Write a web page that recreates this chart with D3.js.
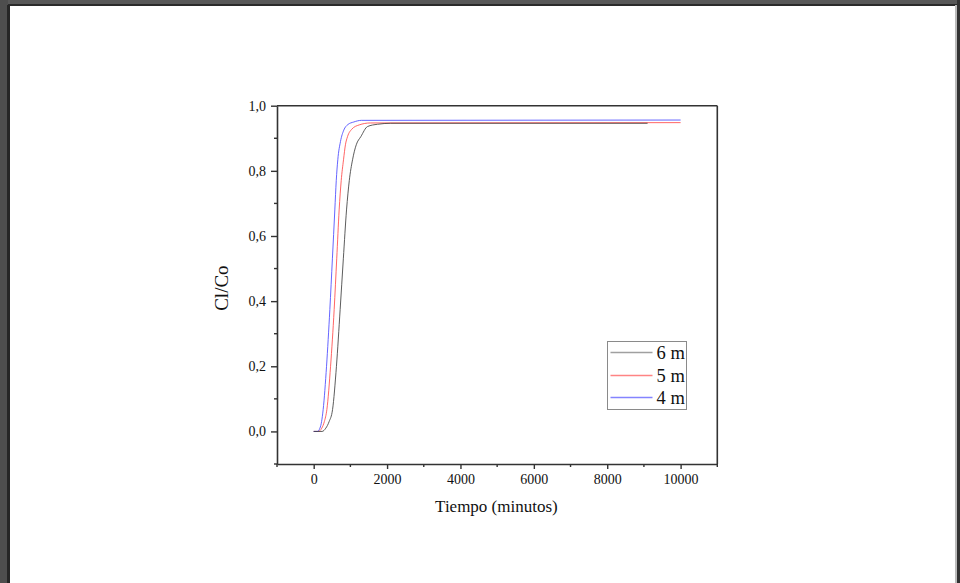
<!DOCTYPE html>
<html>
<head>
<meta charset="utf-8">
<script src="https://cdn.jsdelivr.net/npm/d3@7"></script>
<style>
  body { margin: 0; background: #fff; }
  svg { display: block; }
  text { font-family: "Liberation Serif", "Times New Roman", serif; fill: #111; }
</style>
</head>
<body>
<div id="chart-area"></div>
<script>
// series (time in minutes, Cl/Co)
let seriesNames = ["6 m", "5 m", "4 m"];
let seriesColors = ["#404040", "#ff4a4a", "#4a4aff"];
let legendColors = ["#a0a0a0", "#ff8484", "#8484ff"];

let time6 = [0, 230, 330, 420, 514, 620, 721, 808, 895, 970, 1059, 1160, 1285, 1467, 1740, 2100, 9100];
let conc6 = [0, 0, 0.01, 0.03, 0.067, 0.2, 0.374, 0.53, 0.68, 0.77, 0.834, 0.88, 0.905, 0.936, 0.943, 0.946, 0.946];

let time5 = [0, 130, 220, 290, 359, 460, 558, 628, 694, 750, 813, 865, 922, 1040, 1240, 1540, 10000];
let conc5 = [0, 0, 0.01, 0.03, 0.067, 0.2, 0.374, 0.53, 0.68, 0.77, 0.834, 0.88, 0.905, 0.928, 0.941, 0.947, 0.948];

let time4 = [0, 100, 170, 215, 258, 350, 440, 510, 576, 615, 657, 730, 820, 930, 1093, 1300, 10000];
let conc4 = [0, 0, 0.01, 0.03, 0.067, 0.2, 0.374, 0.53, 0.68, 0.77, 0.834, 0.89, 0.925, 0.942, 0.95, 0.955, 0.956];

let xTicks = [0, 2000, 4000, 6000, 8000, 10000];
let xMinor = [-1000, 1000, 3000, 5000, 7000, 9000, 11000];
let yTicks = [0, 0.2, 0.4, 0.6, 0.8, 1.0];
let yMinor = [-0.1, 0.1, 0.3, 0.5, 0.7, 0.9];

let margin = {left: 277, top: 105.7, right: 960 - 717.3, bottom: 583 - 464};
let width = 960 - margin.left - margin.right;
let height = 583 - margin.top - margin.bottom;

var svg = d3.select('#chart-area')
    .append('svg')
    .attr('width', 960)
    .attr('height', 583);

// page frame
svg.append('rect').attr('x', 0).attr('y', 0).attr('width', 960).attr('height', 5).attr('fill', '#585858');
svg.append('rect').attr('x', 0).attr('y', 4).attr('width', 960).attr('height', 2).attr('fill', '#2a2a2a');
svg.append('rect').attr('x', 0).attr('y', 0).attr('width', 8).attr('height', 583).attr('fill', '#4e4e4e');
svg.append('rect').attr('x', 7).attr('y', 5).attr('width', 3).attr('height', 578).attr('fill', '#262626');
svg.append('rect').attr('x', 955).attr('y', 5).attr('width', 2).attr('height', 578).attr('fill', '#bbbbbb');
svg.append('rect').attr('x', 957).attr('y', 0).attr('width', 3).attr('height', 583).attr('fill', '#333');

var g = svg.append('g')
    .attr('transform', 'translate(' + margin.left + ', ' + margin.top + ')');

var x = d3.scaleLinear().domain([-1000, 11000]).range([0, width]);
var y = d3.scaleLinear().domain([-0.1, 1.0]).range([height, 0]);

// curves
var data = [
    {name: seriesNames[0], t: time6, v: conc6},
    {name: seriesNames[1], t: time5, v: conc5},
    {name: seriesNames[2], t: time4, v: conc4}
];

var line = d3.line()
    .x(function(d){ return x(d[0]); })
    .y(function(d){ return y(d[1]); })
    .curve(d3.curveMonotoneX);

// draw red, blue, then black on top
[1, 2, 0].forEach(function(i) {
    var d = data[i];
    g.append('path')
        .datum(d.t.map(function(t, k){ return [t, d.v[k]]; }))
        .attr('fill', 'none')
        .attr('stroke', seriesColors[i])
        .attr('stroke-width', 1)
        .attr('stroke-opacity', 0.85)
        .attr('d', line);
});

// frame top/right
g.append('line').attr('x1', 0).attr('x2', width).attr('y1', 0).attr('y2', 0)
    .attr('stroke', '#333').attr('stroke-width', 1.6);
g.append('line').attr('x1', width).attr('x2', width).attr('y1', 0).attr('y2', height)
    .attr('stroke', '#333').attr('stroke-width', 1.6);

// x axis
var xAxis = g.append('g')
    .attr('class', 'x axis')
    .attr('transform', 'translate(0, ' + height + ')')
    .call(d3.axisBottom(x).tickValues(xTicks).tickSize(5).tickSizeOuter(0).tickFormat(d3.format('d')));
xAxis.attr('font-size', null).attr('font-family', null);
xAxis.selectAll('.tick line').attr('stroke', '#333').attr('stroke-width', 1.4);
xAxis.select('.domain').attr('stroke', '#333').attr('stroke-width', 1.6);
xAxis.selectAll('text')
    .style('font-size', '14px')
    .style('fill', '#111')
    .attr('y', 10);
xAxis.selectAll('.minor').data(xMinor).enter()
    .append('line')
    .attr('class', 'minor')
    .attr('x1', function(d){ return x(d); })
    .attr('x2', function(d){ return x(d); })
    .attr('y1', 0).attr('y2', 3)
    .attr('stroke', '#333').attr('stroke-width', 1.4);

// y axis
var yAxis = g.append('g')
    .attr('class', 'y axis')
    .call(d3.axisLeft(y).tickValues(yTicks).tickSize(6).tickSizeOuter(0)
        .tickFormat(function(d){ return d3.format('.1f')(d).replace('.', ','); }));
yAxis.attr('font-size', null).attr('font-family', null);
yAxis.selectAll('.tick line').attr('stroke', '#333').attr('stroke-width', 1.4);
yAxis.select('.domain').attr('stroke', '#333').attr('stroke-width', 1.6);
yAxis.selectAll('text')
    .style('font-size', '14px')
    .style('fill', '#111')
    .attr('x', -11);
yAxis.selectAll('.minor').data(yMinor).enter()
    .append('line')
    .attr('class', 'minor')
    .attr('y1', function(d){ return y(d); })
    .attr('y2', function(d){ return y(d); })
    .attr('x1', 0).attr('x2', -3)
    .attr('stroke', '#333').attr('stroke-width', 1.4);

// axis labels
g.append('text')
    .attr('x', x(4980))
    .attr('y', height + 48)
    .attr('font-size', '17px')
    .attr('text-anchor', 'middle')
    .text('Tiempo (minutos)');

g.append('text')
    .attr('x', -(y(0.44)))
    .attr('y', -49)
    .attr('font-size', '19px')
    .attr('text-anchor', 'middle')
    .attr('transform', 'rotate(-90)')
    .text('Cl/Co');

// legend (page coordinates)
var legend = svg.append('g').attr('transform', 'translate(607.5, 341.5)');
legend.append('rect')
    .attr('width', 79).attr('height', 68)
    .attr('fill', '#fff')
    .attr('stroke', '#8a8a8a').attr('stroke-width', 1);
seriesNames.forEach(function(n, i) {
    var yy = 11 + Math.round(i * 22.5);
    legend.append('line')
        .attr('x1', 3).attr('x2', 45).attr('y1', yy).attr('y2', yy)
        .attr('stroke', legendColors[i]).attr('stroke-width', 1.3);
    legend.append('text')
        .attr('x', 49).attr('y', yy + 6)
        .attr('font-size', '18.5px')
        .text(n);
});
</script>
</body>
</html>
